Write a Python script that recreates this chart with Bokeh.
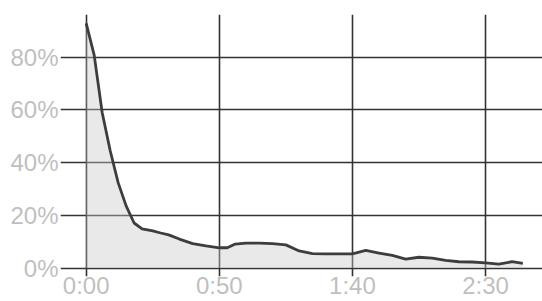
from bokeh.plotting import figure
from bokeh.models import Range1d, FixedTicker
from bokeh.embed import file_html
from bokeh.resources import INLINE

# elapsed time in seconds
times = [0, 3, 6, 9, 12, 15, 18, 21, 25, 28, 31, 35, 40, 45, 50, 53, 56, 60, 65, 70,
         75, 80, 85, 90, 95, 100, 105, 110, 115, 120, 125, 130, 135, 140, 145, 150,
         155, 160, 164]
# percentage
values = [92.8, 80.8, 59.0, 44.6, 32.4, 23.6, 17.1, 14.9, 14.1, 13.3, 12.6, 11.0, 9.3,
          8.4, 7.7, 7.7, 9.1, 9.5, 9.5, 9.3, 8.8, 6.5, 5.5, 5.4, 5.4, 5.4, 6.7, 5.7,
          4.8, 3.4, 4.1, 3.8, 2.9, 2.4, 2.3, 2.0, 1.5, 2.4, 1.8]

x_ticks = [0, 50, 100, 150]
x_tick_labels = ["0:00", "0:50", "1:40", "2:30"]
y_ticks = [0, 20, 40, 60, 80]
y_tick_labels = ["0%", "20%", "40%", "60%", "80%"]

p = figure(width=542, height=301, output_backend="svg", toolbar_location=None,
           x_range=Range1d(-9.65, 171.4), y_range=Range1d(-3.2, 96.2),
           min_border_left=60, min_border_right=0, min_border_top=14,
           min_border_bottom=21)
p.outline_line_color = None
p.background_fill_color = "white"
p.border_fill_color = "white"

p.varea(x=times, y1=[0] * len(times), y2=values, fill_color="#c8c8c8", fill_alpha=0.4)
p.line(x=times, y=values, line_color="#3d3d3d", line_width=2.8, line_join="round")

for ax in (p.xaxis[0], p.yaxis[0]):
    ax.axis_line_color = None
    ax.major_tick_line_color = None
    ax.minor_tick_line_color = None
    ax.major_tick_in = 0
    ax.major_tick_out = 0
    ax.minor_tick_in = 0
    ax.minor_tick_out = 0
    ax.major_label_text_color = "#bfbfbf"
    ax.major_label_text_font = "Liberation Sans"
    ax.major_label_text_font_size = "24px"

p.xaxis.ticker = FixedTicker(ticks=x_ticks)
p.yaxis.ticker = FixedTicker(ticks=y_ticks)
p.xaxis.major_label_overrides = dict(zip(x_ticks, x_tick_labels))
p.yaxis.major_label_overrides = dict(zip(y_ticks, y_tick_labels))
p.yaxis.major_label_standoff = 2
p.xaxis.major_label_standoff = -5

p.xgrid.grid_line_color = "#333333"
p.ygrid.grid_line_color = "#333333"
p.xgrid.grid_line_width = 1.6
p.ygrid.grid_line_width = 1.6

open("out.html", "w").write(file_html(p, INLINE))
